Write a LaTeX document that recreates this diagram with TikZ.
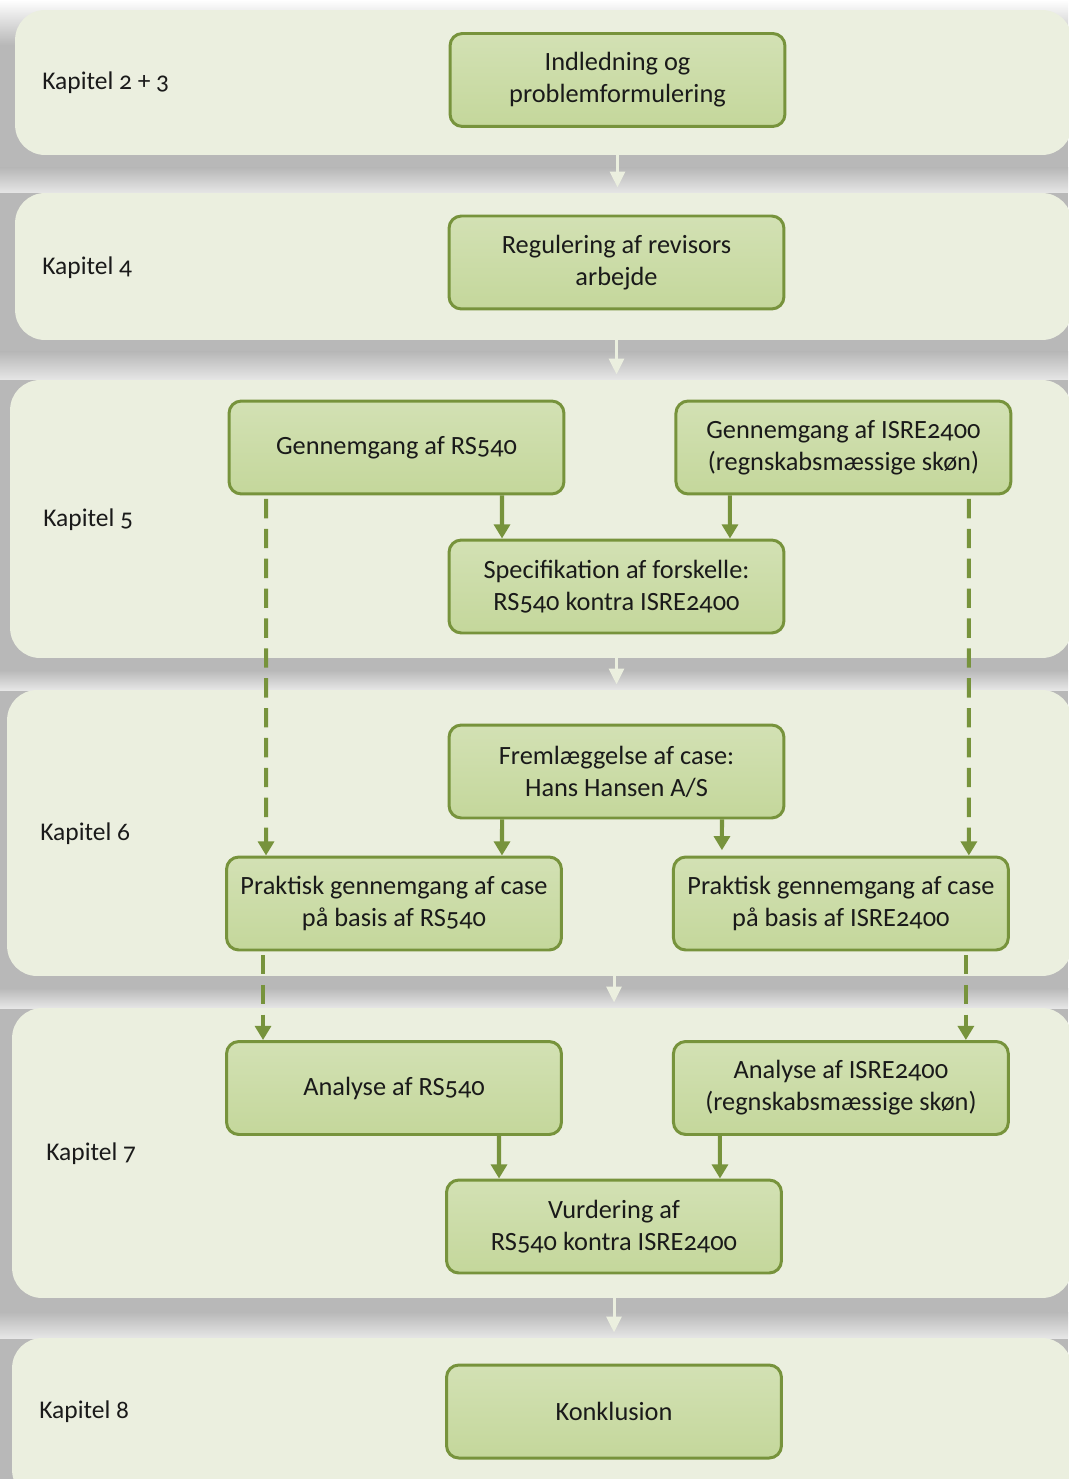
\documentclass[tikz,border=0pt]{standalone}
\usepackage{fontspec}
\setmainfont{Carlito}[Numbers=OldStyle]
\usepackage{tikz}
\usetikzlibrary{arrows.meta,positioning}
\definecolor{boksgroen}{HTML}{C4D79B}
\definecolor{kantgroen}{HTML}{77933C}
\definecolor{feltfarve}{HTML}{EBEFDF}
\definecolor{skygge}{HTML}{B8B8B8}
\definecolor{tekst}{HTML}{1A1A1A}
\tikzset{
    %Define standard arrow tip
    >={Triangle[width=9pt,length=8pt]},
    %Define style for boxes
    boks/.style={
           rectangle,
           rounded corners=7pt,
           draw=kantgroen, line width=1.7pt,
           top color=boksgroen!75!white,
           bottom color=boksgroen,
           minimum width=6.7cm,
           minimum height=1.86cm,
           font=\fontsize{15}{18.3}\selectfont,
           text=tekst,
           align=center},
    %Define style for chapter panels
    felt/.style={
           rectangle,
           rounded corners=17pt,
           fill=feltfarve,
           inner sep=0pt},
    kapitel/.style={
           anchor=west,
           inner sep=0pt,
           font=\fontsize{14.5}{18}\selectfont,
           text=tekst},
    % Define arrow styles
    pil/.style={
           ->,
           color=kantgroen,
           line width=2.3pt},
    stiplet/.style={
           pil,
           dash pattern=on 11pt off 6pt,
           shorten <=2pt},
    lyspil/.style={
           -{Triangle[width=8.5pt,length=9pt]},
           color=feltfarve,
           line width=1.7pt,
           shorten >=3pt}
}
\begin{document}
\begin{tikzpicture}[x=0.02cm,y=-0.02cm,node distance=2.18cm]
\useasboundingbox (0,0) rectangle (1068,1479);
% baggrund og skygger
\fill[white] (0,0) rectangle (1068,1479);
\shade[top color=white,bottom color=skygge] (0,0) rectangle (1068,45);
\fill[skygge] (0,45) rectangle (1068,1479);
\foreach \a/\b in {168/193,352/380,670/690,988/1008,1312/1338}
    \shade[top color=skygge,bottom color=skygge!35!white] (0,\a) rectangle (1068,\b);
% felter
\node[felt,minimum width=21.14cm,minimum height=2.9cm] (p1) at (543.5,82.5) {};
\node[felt,minimum width=21.14cm,minimum height=2.94cm] (p2) at (543.5,266.5) {};
\node[felt,minimum width=21.24cm,minimum height=5.56cm] (p3) at (541,519) {};
\node[felt,minimum width=21.3cm,minimum height=5.72cm] (p4) at (539.5,833) {};
\node[felt,minimum width=21.2cm,minimum height=5.8cm] (p5) at (542,1153) {};
\node[felt,minimum width=21.2cm,minimum height=3.24cm] (p6) at (542,1419) {};
\node[kapitel] (k1) at (42,83) {Kapitel 2 + 3};
\node[kapitel] (k2) at (42,268) {Kapitel 4};
\node[kapitel] (k3) at (43,520) {Kapitel 5};
\node[kapitel] (k4) at (40,834) {Kapitel 6};
\node[kapitel] (k5) at (46,1154) {Kapitel 7};
\node[kapitel] (k6) at (39,1412) {Kapitel 8};
% bokse
\node[boks] (1) at (617.5,80) {Indledning og\\problemformulering};
\node[boks] (2) at (616.5,262.5) {Regulering af revisors\\arbejde};
\node[boks] (3) at (396.5,447.5) {Gennemgang af RS540};
\node[boks, right=of 3] (4) {Gennemgang af ISRE2400\\(regnskabsmæssige skøn)};
\node[boks] (5) at (616.5,586.5) {Specifikation af forskelle:\\RS540 kontra ISRE2400};
\node[boks] (6) at (616.5,771.5) {Fremlæggelse af case:\\Hans Hansen A/S};
\node[boks] (7) at (394,903.5) {Praktisk gennemgang af case\\på basis af RS540};
\node[boks, right=of 7] (8) {Praktisk gennemgang af case\\på basis af ISRE2400};
\node[boks] (9) at (394,1088) {Analyse af RS540};
\node[boks, right=of 9] (10) {Analyse af ISRE2400\\(regnskabsmæssige skøn)};
\node[boks] (11) at (614,1226.5) {Vurdering af\\RS540 kontra ISRE2400};
\node[boks] (12) at (614,1411.5) {Konklusion};
% pile mellem felterne
\path[lyspil]
	(1 |- p1.south) edge (1 |- p2.north)
	(2 |- p2.south) edge (2 |- p3.north)
	(5 |- p3.south) edge (5 |- p4.north)
	(11 |- p4.south) edge (11 |- p5.north)
	(11 |- p5.south) edge (11 |- p6.north);
% pile mellem boksene
\path[pil]
	([xshift=2.11cm]3.south) edge ([xshift=-2.29cm]5.north)
	([xshift=-2.27cm]4.south) edge ([xshift=2.27cm]5.north)
	([xshift=-2.29cm]6.south) edge ([xshift=2.16cm]7.north)
	([xshift=2.11cm]6.south) edge[shorten >=3pt] ([xshift=-2.38cm]8.north)
	([xshift=2.1cm]9.south) edge ([xshift=-2.3cm]11.north)
	([xshift=-2.42cm]10.south) edge ([xshift=2.12cm]11.north);
\path[stiplet]
	([xshift=-2.61cm]3.south) edge ([xshift=-2.56cm]7.north)
	([xshift=2.51cm]4.south) edge ([xshift=2.56cm]8.north)
	([xshift=-2.62cm]7.south) edge ([xshift=-2.62cm]9.north)
	([xshift=2.5cm]8.south) edge ([xshift=2.5cm]10.north);
\end{tikzpicture}
\end{document}
